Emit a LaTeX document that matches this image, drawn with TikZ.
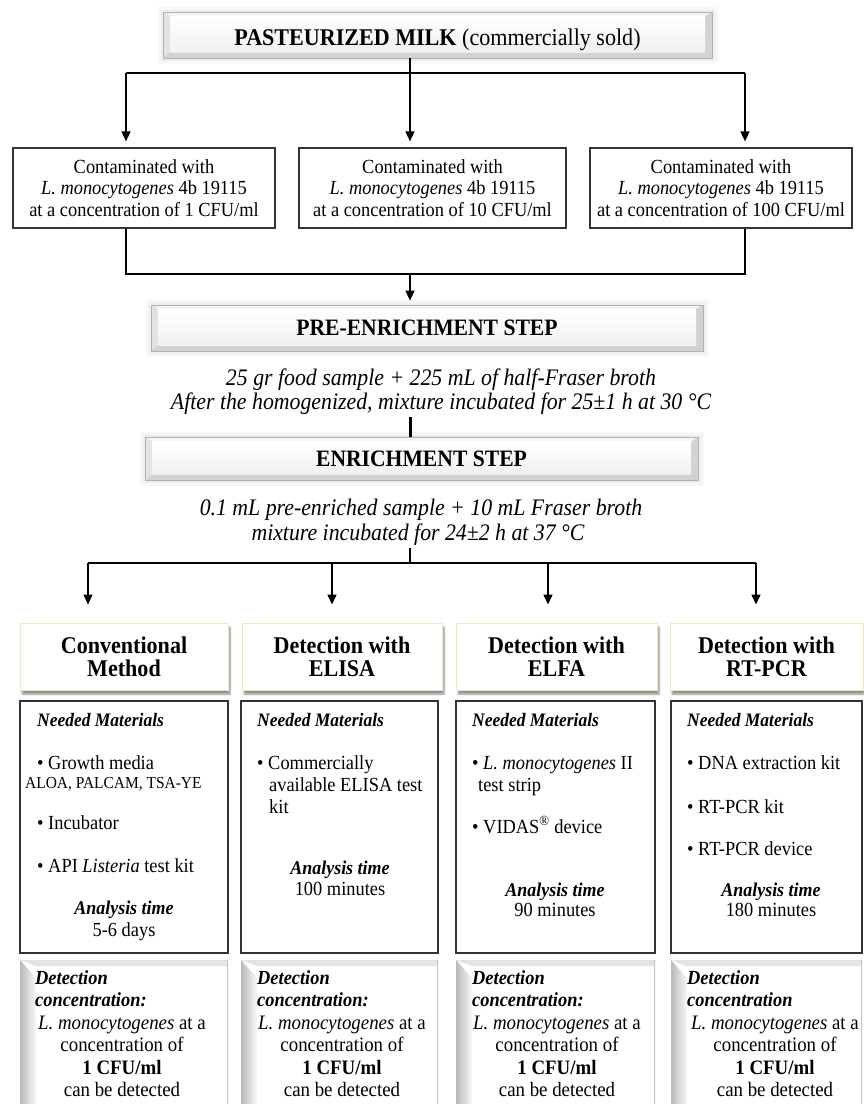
\documentclass[tikz,border=0pt]{standalone}
\usepackage{fontspec}
\setmainfont{Liberation Serif}[FakeStretch=0.92]
\usetikzlibrary{arrows.meta,calc,shadows.blur}
\definecolor{paleyel}{HTML}{EFE9C2}
\newcommand\fsz[2]{\fontsize{#1}{#2}\selectfont}
\begin{document}
\begin{tikzpicture}[x=1pt,y=-1pt,
 ln/.style={line width=1.5pt, black},
 arr/.style={ln, -{Triangle[width=9pt,length=10pt]}},
 plainbox/.style={draw=black!80, line width=1.2pt, fill=white, inner sep=0pt, align=center},
 bevel/.style={inner sep=0pt, align=center, draw=gray!60, line width=0.8pt, fill=gray!35,
   preaction={draw=gray!6, line width=11pt},
   preaction={draw=gray!13, line width=5pt},
   path picture={
     \fill[gray!8] (path picture bounding box.north west) -- (path picture bounding box.north east) -- ($(path picture bounding box.north east)+(-7pt,-4pt)$) -- ($(path picture bounding box.north west)+(7pt,-4pt)$) -- cycle;
     \fill[gray!22] (path picture bounding box.north west) -- ($(path picture bounding box.north west)+(7pt,-4pt)$) -- ($(path picture bounding box.south west)+(7pt,6pt)$) -- (path picture bounding box.south west) -- cycle;
     \shade[top color=white, bottom color=gray!12] ($(path picture bounding box.north west)+(7pt,-4pt)$) rectangle ($(path picture bounding box.south east)+(-7pt,6pt)$);
   }},
 header/.style={draw=paleyel, line width=1pt, fill=white, inner sep=0pt, align=center,
   blur shadow={shadow xshift=2pt, shadow yshift=-4pt, shadow blur steps=6, shadow opacity=45}},
 detbox/.style={inner sep=0pt, fill=white,
   path picture={
     \shade[top color=gray!22, bottom color=white] (path picture bounding box.north west) -- (path picture bounding box.north east) -- ($(path picture bounding box.north east)+(0pt,-6pt)$) -- ($(path picture bounding box.north west)+(16pt,-6pt)$) -- cycle;
     \shade[left color=gray!55, right color=gray!5] (path picture bounding box.south west) -- (path picture bounding box.north west) -- ($(path picture bounding box.north west)+(16pt,-18pt)$) -- ($(path picture bounding box.south west)+(16pt,0pt)$) -- cycle;
     \draw[gray!45, line width=1.2pt] (path picture bounding box.north east) -- (path picture bounding box.south east);
   }},
 txt/.style={inner sep=0pt, anchor=base west, font=\fsz{20}{22}},
 ctxt/.style={inner sep=0pt, anchor=base, font=\fsz{20}{22}},
 nm/.style={inner sep=0pt, anchor=base west, font=\fsz{19}{22}\bfseries\itshape},
 an/.style={inner sep=0pt, anchor=base, font=\fsz{19.5}{22}\bfseries\itshape},
 desc/.style={inner sep=0pt, anchor=base, font=\fsz{23.7}{25}\itshape}
]
\useasboundingbox (0,0) rectangle (863,1104);

% top box
\node[bevel, minimum width=549pt, minimum height=46pt] (milk) at (437.5,35) {};
\node[inner sep=0pt, anchor=base, font=\fsz{24}{26}] (milkt) at (437.5,45) {\textbf{PASTEURIZED MILK} (commercially sold)};

% contamination boxes
\node[plainbox, minimum width=262pt, minimum height=80pt, font=\fsz{20}{21.5}] (c1) at (144,188)
  {Contaminated with\\ \textit{L. monocytogenes} 4b 19115\\ at a concentration of 1 CFU/ml};
\node[plainbox, minimum width=267pt, minimum height=80pt, font=\fsz{20}{21.5}] (c2) at (432.5,188)
  {Contaminated with\\ \textit{L. monocytogenes} 4b 19115\\ at a concentration of 10 CFU/ml};
\node[plainbox, minimum width=262pt, minimum height=80pt, font=\fsz{20}{21.5}] (c3) at (721,188)
  {Contaminated with\\ \textit{L. monocytogenes} 4b 19115\\ at a concentration of 100 CFU/ml};

\coordinate (jL) at (126,73);
\coordinate (jM) at (410,73);
\coordinate (jR) at (745,73);
\draw[ln] (jL) -- (jR);
\draw[arr, shorten >=6pt] (milk.south -| jM) -- (c2.north -| jM);
\draw[arr, shorten >=6pt] (jL) -- (c1.north -| jL);
\draw[arr, shorten >=6pt] (jR) -- (c3.north -| jR);

% pre-enrichment
\node[bevel, minimum width=552pt, minimum height=46pt] (pre) at (427,328) {\fsz{23.5}{25}\textbf{PRE-ENRICHMENT STEP}};
\coordinate (mL) at (126,274);
\coordinate (mM) at (410,274);
\coordinate (mR) at (745,274);
\draw[ln] (c1.south -| mL) -- (mL) -- (mR) -- (c3.south -| mR);
\draw[arr, shorten >=4pt] (mM) -- (pre.north -| mM);

\node[desc] (pd1) at (441,385) {25 gr food sample + 225 mL of half-Fraser broth};
\node[desc] (pd2) at (441,409) {After the homogenized, mixture incubated for 25±1 h at 30 °C};

% enrichment
\node[bevel, minimum width=553pt, minimum height=43pt] (enr) at (421.5,459) {\fsz{23.5}{25}\textbf{ENRICHMENT STEP}};
\coordinate (s1) at (410,417);
\draw[line width=3pt] (s1) -- (enr.north -| s1);

\node[desc] (ed1) at (421,515) {0.1 mL pre-enriched sample + 10 mL Fraser broth};
\node[desc] (ed2) at (418,540) {mixture incubated for 24±2 h at 37 °C};

% branch to methods
\coordinate (s2) at (410,548);
\coordinate (bM) at (410,563);
\coordinate (bA) at (88,563);
\coordinate (bB) at (332,563);
\coordinate (bC) at (548,563);
\coordinate (bD) at (756,563);
\draw[ln] (s2) -- (bM);
\draw[ln] (bA) -- (bD);

% method headers
\node[header, minimum width=208pt, minimum height=67pt, font=\fsz{24}{23}\bfseries] (hA) at (124,656.5) {Conventional\\Method};
\node[header, minimum width=200pt, minimum height=67pt, font=\fsz{24}{23}\bfseries] (hB) at (342,656.5) {Detection with\\ELISA};
\node[header, minimum width=201pt, minimum height=67pt, font=\fsz{24}{23}\bfseries] (hC) at (556.5,656.5) {Detection with\\ELFA};
\node[header, minimum width=193pt, minimum height=67pt, font=\fsz{24}{23}\bfseries] (hD) at (766.5,656.5) {Detection with\\RT-PCR};

\draw[arr, shorten >=18pt] (bA) -- (hA.north -| bA);
\draw[arr, shorten >=18pt] (bB) -- (hB.north -| bB);
\draw[arr, shorten >=18pt] (bC) -- (hC.north -| bC);
\draw[arr, shorten >=18pt] (bD) -- (hD.north -| bD);

% detail boxes
\node[plainbox, minimum width=208pt, minimum height=252pt] (dA) at (124,827) {};
\node[plainbox, minimum width=197pt, minimum height=252pt] (dB) at (339.5,827) {};
\node[plainbox, minimum width=199pt, minimum height=252pt] (dC) at (555.5,827) {};
\node[plainbox, minimum width=191pt, minimum height=252pt] (dD) at (766.5,827) {};

% A
\node[nm] (a1) at (37,726) {Needed Materials};
\node[txt] (a2) at (37,769) {• Growth media};
\node[txt, font=\fsz{16.8}{18}] (a3) at (25,788) {ALOA, PALCAM, TSA-YE};
\node[txt] (a4) at (37,829) {• Incubator};
\node[txt] (a5) at (37,872) {• API \textit{Listeria} test kit};
\node[an] (a6) at (124,914) {Analysis time};
\node[ctxt] (a7) at (124,936) {5-6 days};
% B
\node[nm] (b1) at (257,726) {Needed Materials};
\node[txt] (b2) at (257,769) {• Commercially};
\node[txt] (b3) at (269,791) {available ELISA test};
\node[txt] (b4) at (269,813) {kit};
\node[an] (b5) at (340,874) {Analysis time};
\node[ctxt] (b6) at (340,895) {100 minutes};
% C
\node[nm] (cc1) at (472,726) {Needed Materials};
\node[txt] (cc2) at (472,769) {• \textit{L. monocytogenes} II};
\node[txt] (cc3) at (478,791) {test strip};
\node[txt] (cc4) at (472,833) {• VIDAS\textsuperscript{®} device};
\node[an] (cc5) at (555,896) {Analysis time};
\node[ctxt] (cc6) at (555,916) {90 minutes};
% D
\node[nm] (d1) at (687,726) {Needed Materials};
\node[txt] (d2) at (687,769) {• DNA extraction kit};
\node[txt] (d3) at (687,813) {• RT-PCR kit};
\node[txt] (d4) at (687,855) {• RT-PCR device};
\node[an] (d5) at (771,896) {Analysis time};
\node[ctxt] (d6) at (771,916) {180 minutes};

% detection boxes
\node[detbox, minimum width=208pt, minimum height=144pt] (eA) at (124,1032) {};
\node[detbox, minimum width=197pt, minimum height=144pt] (eB) at (339.5,1032) {};
\node[detbox, minimum width=199pt, minimum height=144pt] (eC) at (555.5,1032) {};
\node[detbox, minimum width=191pt, minimum height=144pt] (eD) at (766.5,1032) {};

\foreach \n/\lx/\cx/\col in {A/35/122/:, B/257/342/:, C/472/557/:, D/687/775/} {
  \node[nm, font=\fsz{20}{22}\bfseries\itshape] (e\n1) at (\lx,984) {Detection};
  \node[nm, font=\fsz{20}{22}\bfseries\itshape] (e\n2) at (\lx,1006) {concentration\col};
  \node[ctxt, font=\fsz{20.5}{22}] (e\n3) at (\cx,1029) {\textit{L. monocytogenes} at a};
  \node[ctxt, font=\fsz{20.5}{22}] (e\n4) at (\cx,1051) {concentration of};
  \node[ctxt, font=\fsz{20.5}{22}\bfseries] (e\n5) at (\cx,1074) {1 CFU/ml};
  \node[ctxt, font=\fsz{20.5}{22}] (e\n6) at (\cx,1096) {can be detected};
}
\end{tikzpicture}
\end{document}
